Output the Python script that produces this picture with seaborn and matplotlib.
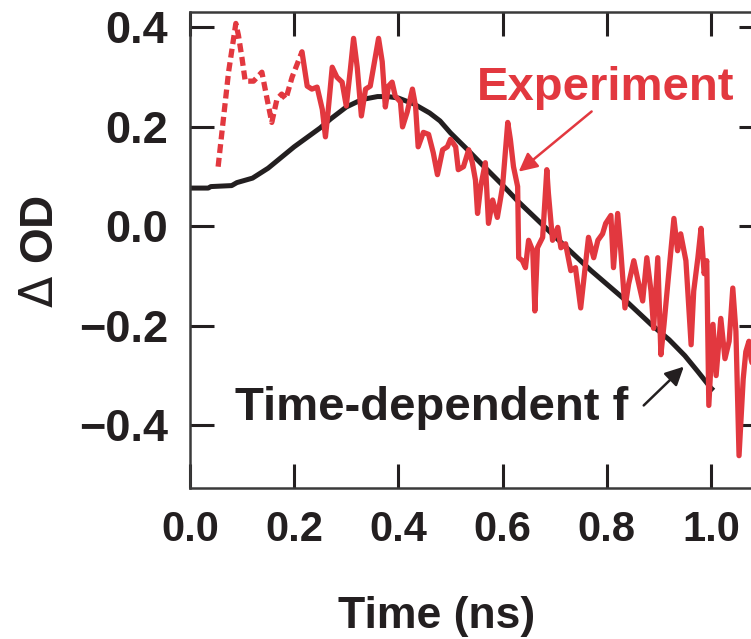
import numpy as np
import pandas as pd
import matplotlib
matplotlib.use("Agg")
import matplotlib.pyplot as plt
import seaborn as sns

# ---------------- data ----------------
model_t = [0.0, 0.035, 0.04, 0.08, 0.09, 0.12, 0.15, 0.2, 0.25, 0.27, 0.3, 0.33, 0.36, 0.38,
           0.40, 0.43, 0.46, 0.48, 0.5, 0.53, 0.56, 0.6, 0.63, 0.68, 0.72, 0.77, 0.83, 0.885,
           0.92, 0.95, 0.975, 1.0, 1.005]
model_od = [0.077, 0.077, 0.08, 0.082, 0.088, 0.097, 0.117, 0.16, 0.198, 0.216, 0.24, 0.255,
            0.261, 0.261, 0.258, 0.246, 0.228, 0.212, 0.188, 0.157, 0.125, 0.083, 0.05, 0.0,
            -0.04, -0.089, -0.143, -0.197, -0.228, -0.26, -0.292, -0.325, -0.33]

early_t = [0.054, 0.064, 0.074, 0.088, 0.093, 0.100, 0.106, 0.122, 0.138, 0.148,
           0.157, 0.167, 0.176, 0.184, 0.196, 0.215]
early_od = [0.12, 0.215, 0.31, 0.408, 0.384, 0.337, 0.292, 0.292, 0.31, 0.256,
            0.209, 0.256, 0.266, 0.256, 0.30, 0.351]

exp_t = [0.215, 0.225, 0.234, 0.244, 0.254, 0.26, 0.265, 0.273, 0.282, 0.292, 0.30, 0.308,
         0.314, 0.321, 0.329, 0.337, 0.346, 0.362, 0.369, 0.375, 0.381, 0.388, 0.394, 0.404,
         0.408, 0.417, 0.427, 0.433, 0.438, 0.448, 0.458, 0.467, 0.475, 0.485, 0.494, 0.5,
         0.51, 0.515, 0.525, 0.535, 0.542, 0.548, 0.552, 0.558, 0.567, 0.573, 0.581, 0.59,
         0.6, 0.61, 0.615, 0.621, 0.629, 0.631, 0.638, 0.644, 0.65, 0.658, 0.662, 0.667,
         0.677, 0.685, 0.688, 0.696, 0.706, 0.712, 0.721, 0.731, 0.74, 0.75, 0.76, 0.765,
         0.775, 0.783, 0.792, 0.798, 0.808, 0.813, 0.821, 0.827, 0.835, 0.842, 0.852, 0.859,
         0.869, 0.877, 0.885, 0.89, 0.898, 0.904, 0.91, 0.919, 0.929, 0.936, 0.942, 0.952,
         0.962, 0.967, 0.975, 0.981, 0.987, 0.992, 0.996, 1.004, 1.01, 1.019, 1.027, 1.035,
         1.042, 1.048, 1.054, 1.062, 1.067, 1.073, 1.077, 1.085, 1.095]
exp_od = [0.351, 0.282, 0.276, 0.28, 0.235, 0.18, 0.23, 0.32, 0.30, 0.29, 0.242, 0.317,
          0.378, 0.32, 0.222, 0.276, 0.282, 0.378, 0.331, 0.24, 0.282, 0.29, 0.262, 0.25,
          0.2, 0.23, 0.276, 0.242, 0.16, 0.189, 0.185, 0.148, 0.104, 0.154, 0.16, 0.175,
          0.16, 0.114, 0.12, 0.154, 0.128, 0.093, 0.026, 0.08, 0.128, 0.006, 0.053, 0.018,
          0.08, 0.209, 0.175, 0.12, 0.08, -0.063, -0.069, -0.083, -0.028, -0.049, -0.17, -0.043,
          -0.022, 0.114, 0.067, -0.028, -0.002, -0.043, -0.035, -0.089, -0.083, -0.164, -0.069, -0.022,
          -0.063, -0.028, -0.015, 0.006, 0.022, -0.083, 0.026, -0.049, -0.164, -0.116, -0.069, -0.104,
          -0.15, -0.063, -0.13, -0.205, -0.063, -0.258, -0.197, -0.095, 0.016, -0.049, -0.015, -0.069,
          -0.238, -0.13, -0.063, -0.004, -0.095, -0.069, -0.36, -0.197, -0.3, -0.185, -0.266, -0.231,
          -0.124, -0.211, -0.461, -0.307, -0.252, -0.231, -0.266, -0.30, -0.28]

x_ticks = [0.0, 0.2, 0.4, 0.6, 0.8, 1.0]
x_tick_labels = ["0.0", "0.2", "0.4", "0.6", "0.8", "1.0"]
y_ticks = [-0.4, -0.2, 0.0, 0.2, 0.4]
y_tick_labels = ["\u22120.4", "\u22120.2", "0.0", "0.2", "0.4"]

# ---------------- style ----------------
sns.set_theme(style="ticks")
plt.rcParams["font.family"] = ["Liberation Sans", "DejaVu Sans"]
plt.rcParams["mathtext.fontset"] = "dejavusans"

RED = "#e2383f"
BLACK = "#231f20"
SPINE = "#3a3a3a"

fig = plt.figure(figsize=(7.51, 6.39), dpi=100)
W, H = 751, 639
left, right, top, bottom = 190, 763, 12, 488
ax = fig.add_axes([left / W, 1 - bottom / H, (right - left) / W, (bottom - top) / H])

sns.lineplot(x=model_t, y=model_od, ax=ax, color=BLACK, lw=3.6, estimator=None,
             solid_capstyle="butt")
sns.lineplot(x=early_t, y=early_od, ax=ax, color=RED, lw=3.8, estimator=None,
             linestyle=(0, (1.7, 0.9)), dash_capstyle="butt")
sns.lineplot(x=exp_t, y=exp_od, ax=ax, color=RED, lw=3.8, estimator=None,
             solid_joinstyle="round", solid_capstyle="round")

ax.set_xlim(0, 1.1)
ax.set_ylim(-0.526, 0.431)

ax.set_xticks(x_ticks)
ax.set_xticklabels(x_tick_labels, fontsize=30, fontweight="bold", color=BLACK)
ax.set_yticks(y_ticks)
ax.set_yticklabels(y_tick_labels, fontsize=32.5, fontweight="bold", color=BLACK)

ax.tick_params(axis="both", which="both", direction="in", length=17, width=2.2,
               color=BLACK, top=True, right=True)
ax.tick_params(axis="x", pad=16)
ax.tick_params(axis="y", pad=16)

for s in ax.spines.values():
    s.set_visible(True)
    s.set_linewidth(1.8)
    s.set_color(SPINE)

ax.set_xlabel("Time (ns)", fontsize=32, fontweight="bold", color=BLACK)
ax.xaxis.set_label_coords((437 - left) / (right - left), -0.226)
ax.set_ylabel(r"$\Delta$ OD", fontsize=33, fontweight="bold", color=BLACK)
ax.yaxis.set_label_coords((63 - left) / (right - left), 0.496)

ax.annotate("", xy=(0.631, 0.11), xytext=(0.771, 0.231),
            arrowprops=dict(arrowstyle="-|>", color=RED, lw=1.8, mutation_scale=28,
                            shrinkA=0, shrinkB=0))
ax.text(0.798, 0.254, "Experiment", color=RED, fontsize=34, fontweight="bold",
        ha="center", va="baseline")

ax.annotate("", xy=(0.948, -0.282), xytext=(0.871, -0.36),
            arrowprops=dict(arrowstyle="-|>", color=BLACK, lw=1.8, mutation_scale=28,
                            shrinkA=0, shrinkB=0))
ax.text(0.463, -0.389, "Time-dependent f", color=BLACK, fontsize=34, fontweight="bold",
        ha="center", va="baseline")

fig.savefig("out.png", dpi=100)
